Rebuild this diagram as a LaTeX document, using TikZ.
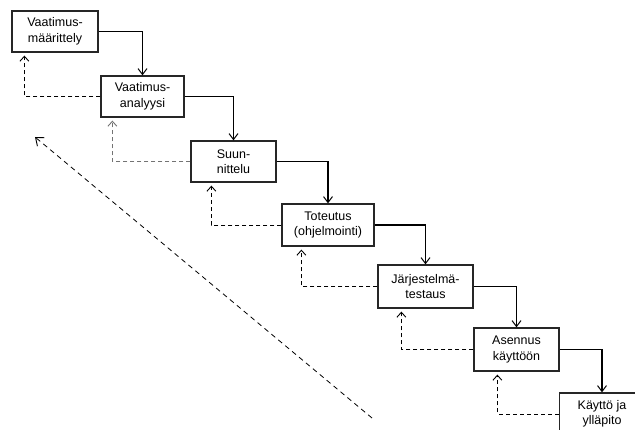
\documentclass[tikz,border=0pt]{standalone}
\usepackage{fontspec}
\setmainfont{Liberation Sans}
\usetikzlibrary{arrows.meta}
\begin{document}
\begin{tikzpicture}[x=1pt,y=-1pt,
  phase/.style={draw=black!85,line width=1.2pt,fill=white,align=center,inner sep=0pt,
    font=\fontsize{12.5}{15.5}\selectfont},
  flow/.style={line width=1.4pt,-{Straight Barb[length=6pt,width=9pt,line width=1pt]}},
  back/.style={line width=0.9pt,dash pattern=on 4pt off 3pt,shorten >=3pt,
    -{Straight Barb[length=5pt,width=9pt,line width=0.9pt]}},
  diag/.style={line width=0.8pt,dash pattern=on 5pt off 4pt,
    -{Straight Barb[length=7pt,width=11pt,line width=0.9pt]}}]
\useasboundingbox (0,0) rectangle (635,430);
\begin{scope}
\clip (0,0) rectangle (635,430);
\node[phase,minimum width=86pt,minimum height=41pt] (b1) at (55,31.5) {Vaatimus-\\määrittely};
\node[phase,minimum width=83pt,minimum height=41pt] (b2) at (142.5,96.5) {Vaatimus-\\analyysi};
\node[phase,minimum width=85pt,minimum height=41pt] (b3) at (233.5,161.5) {Suun-\\nittelu};
\node[phase,minimum width=92pt,minimum height=42pt] (b4) at (328,225) {Toteutus\\(ohjelmointi)};
\node[phase,minimum width=95pt,minimum height=43pt] (b5) at (425.5,286.5) {Järjestelmä-\\testaus};
\node[phase,minimum width=85pt,minimum height=43pt] (b6) at (516.5,349.5) {Asennus\\käyttöön};
\node[phase,minimum width=85pt,minimum height=42pt] (b7) at (602,414) {Käyttö ja\\ylläpito};

\draw[flow] (b1.east) -| (b2.north);
\draw[flow] (b2.east) -| (b3.north);
\draw[flow] (b3.east) -| (b4.north);
\draw[flow] (b4.east) -| (b5.north);
\draw[flow] (b5.east) -| (b6.north);
\draw[flow] (b6.east) -| (b7.north);

\draw[back] (b2.west) -| ([xshift=13pt]b1.south west);
\draw[back,draw=black!55] (b3.west) -| ([xshift=12pt]b2.south west);
\draw[back] (b4.west) -| ([xshift=21pt]b3.south west);
\draw[back] (b5.west) -| ([xshift=20pt]b4.south west);
\draw[back] (b6.west) -| ([xshift=24pt]b5.south west);
\draw[back] (b7.west) -| ([xshift=24pt]b6.south west);

\coordinate (ds) at (372,418);
\coordinate (de) at (35,137);
\draw[diag] (ds) -- (de);
\end{scope}
\end{tikzpicture}
\end{document}
